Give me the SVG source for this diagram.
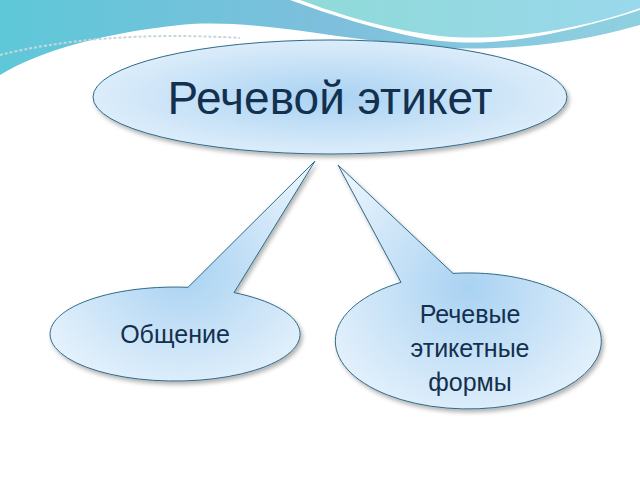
<svg xmlns="http://www.w3.org/2000/svg" width="640" height="480" viewBox="0 0 640 480">
<defs>
<linearGradient id="wave1" x1="0" y1="0" x2="1" y2="0"><stop offset="0" stop-color="#5ec8d8"/><stop offset="0.5" stop-color="#7dbfdc"/><stop offset="1" stop-color="#8fd0e0"/></linearGradient>
<linearGradient id="wave2" x1="0" y1="0" x2="1" y2="0"><stop offset="0" stop-color="#8fdad8"/><stop offset="1" stop-color="#9ad8ec"/></linearGradient>
<radialGradient id="fill" cx="0.5" cy="0.5" r="0.6"><stop offset="0" stop-color="#a9d2f2"/><stop offset="1" stop-color="#e6f2fc"/></radialGradient>
<filter id="sh" x="-10%" y="-10%" width="120%" height="130%"><feDropShadow dx="2" dy="3" stdDeviation="2" flood-color="#000" flood-opacity="0.3"/></filter>
<style>
.sh{fill:url(#fill);stroke:#2e6b8a;stroke-width:1;filter:url(#sh)}
text{font-family:"Liberation Sans",Arial,sans-serif;fill:#14304f;text-anchor:middle}
</style>
</defs>
<rect width="640" height="480" fill="#fff"/>
<g id="background">
<path d="M0,0 H290 C330,15 380,30 420,38 C470,47 530,45 640,10 V25 C560,48 480,52 420,46 C330,38 250,18 180,25 C110,32 40,50 0,75 Z" fill="url(#wave1)"/>
<path d="M300,0 H640 V8 C580,30 500,42 440,36 C390,30 340,15 300,0 Z" fill="url(#wave2)"/>
<path d="M0,55 C60,40 140,32 240,38" fill="none" stroke="#c8d6dc" stroke-width="2" stroke-dasharray="3 2"/>
</g>
<g id="top">
<ellipse class="sh" cx="330" cy="97" rx="237" ry="57"/>
<text x="330" y="114" font-size="46">Речевой этикет</text>
</g>
<g id="obshchenie">
<path class="sh" d="M188,287.3 L315,161 L234,292.6 A125,47 0 1 1 188,287.3 Z"/>
<text x="175" y="343" font-size="25">Общение</text>
</g>
<g id="formy">
<path class="sh" d="M401,282.3 L338,165 L453,273.4 A133,68 0 1 1 401,282.3 Z"/>
<text x="470" y="323" font-size="25">Речевые</text>
<text x="470" y="357" font-size="25">этикетные</text>
<text x="470" y="391" font-size="25">формы</text>
</g>
<g id="connectors"/>
</svg>
